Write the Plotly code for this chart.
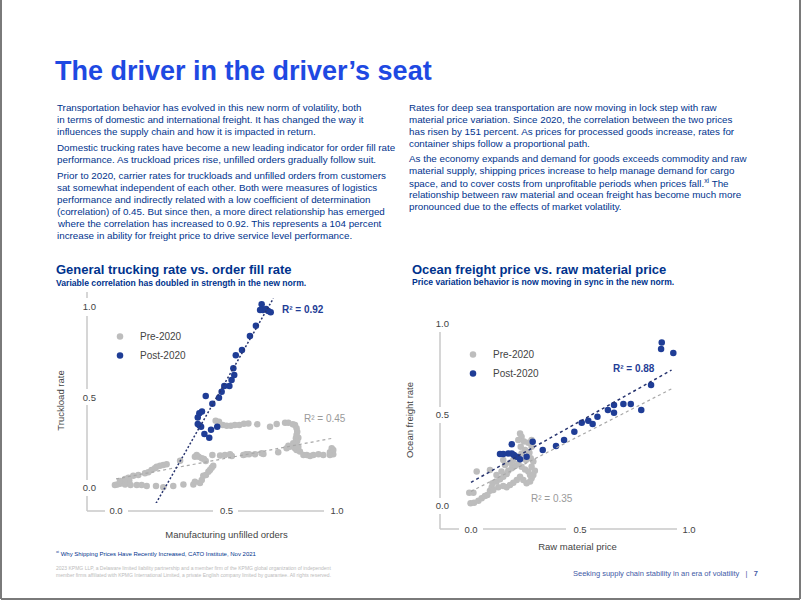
import plotly.graph_objects as go

W, H = 802, 601

def X(px):
    return px / W

def Y(py):
    return 1 - py / H

# ---------------- data: trucking rate vs. order fill rate ----------------
truck_pre_x = [-0.005, 0.006, 0.018, 0.029, 0.041, 0.051, 0.060, 0.066, 0.094, 0.116, 0.139, 0.181, 0.214,
               0.259, 0.305, 0.350, 0.357, 0.380, 0.388, 0.395, 0.407, 0.418, 0.425, 0.433, 0.440,
               0.018, 0.041, 0.056, 0.078, 0.101, 0.131, 0.146, 0.161, 0.176, 0.184, 0.199, 0.214, 0.229, 0.290,
               0.357, 0.365, 0.374, 0.388, 0.398, 0.406, 0.436, 0.471, 0.493, 0.516, 0.524, 0.576, 0.588, 0.602,
               0.629, 0.659, 0.667, 0.734, 0.772, 0.780, 0.787, 0.802, 0.810, 0.817, 0.825, 0.832, 0.848, 0.863,
               0.878, 0.893, 0.916, 0.938, 0.968, 0.976, 0.983, 0.983, 0.968,
               0.810, 0.817, 0.820, 0.817, 0.825, 0.814, 0.820, 0.802,
               0.451, 0.466, 0.483, 0.501, 0.520, 0.538, 0.558, 0.579, 0.599, 0.639, 0.697, 0.727, 0.765, 0.780, 0.800]
truck_pre_y = [0.017, 0.020, 0.024, 0.031, 0.020, 0.031, 0.042, 0.017, 0.017, 0.017, 0.011, 0.011, 0.004,
               0.011, 0.020, 0.020, 0.035, 0.028, 0.044, 0.068, 0.072, 0.090, 0.099, 0.112, 0.123,
               0.039, 0.050, 0.057, 0.068, 0.072, 0.081, 0.087, 0.099, 0.109, 0.118, 0.123, 0.127, 0.131, 0.151,
               0.173, 0.182, 0.173, 0.164, 0.160, 0.149, 0.182, 0.179, 0.182, 0.186, 0.177, 0.182, 0.186, 0.186,
               0.186, 0.192, 0.188, 0.197, 0.219, 0.234, 0.228, 0.238, 0.219, 0.210, 0.228, 0.201, 0.182, 0.182,
               0.177, 0.182, 0.186, 0.182, 0.197, 0.219, 0.210, 0.186, 0.182,
               0.348, 0.330, 0.311, 0.293, 0.278, 0.275, 0.260, 0.247,
               0.372, 0.366, 0.348, 0.344, 0.344, 0.348, 0.348, 0.355, 0.357, 0.352, 0.339, 0.354, 0.361, 0.361, 0.352]
truck_post_x = [0.659, 0.652, 0.664, 0.679, 0.689, 0.700, 0.633, 0.606, 0.570, 0.542, 0.531, 0.535, 0.523,
                0.490, 0.513, 0.478, 0.466, 0.406, 0.436, 0.389, 0.377, 0.370, 0.370, 0.378, 0.385, 0.430,
                0.400, 0.422, 0.458]
truck_post_y = [1.015, 0.983, 0.983, 0.989, 0.978, 0.971, 0.897, 0.840, 0.762, 0.733, 0.661, 0.624, 0.597,
                0.564, 0.564, 0.532, 0.499, 0.508, 0.466, 0.422, 0.413, 0.390, 0.354, 0.345, 0.339, 0.322,
                0.298, 0.278, 0.339]
truck_trend_pre_x = [0.0, 0.98]
truck_trend_pre_y = [0.05, 0.275]
truck_trend_post_x = [0.181, 0.712]
truck_trend_post_y = [-0.085, 1.048]

# ---------------- data: ocean freight vs. raw material ----------------
ocean_pre_x = [0.026, 0.087, -0.008, 0.011, -0.002, 0.014, 0.034, 0.049, 0.064,
               0.087, 0.095, 0.099, 0.117, 0.133, 0.148, 0.164, 0.171, 0.187, 0.202, 0.217, 0.232, 0.248,
               0.263, 0.271, 0.278, 0.271, 0.255, 0.240, 0.225, 0.210, 0.194, 0.179, 0.164, 0.148, 0.125,
               0.102, 0.075, 0.117, 0.140, 0.156, 0.179, 0.148, 0.194,
               0.225, 0.232, 0.217, 0.243, 0.263, 0.278, 0.228, 0.248, 0.268, 0.232, 0.274, 0.252, 0.286,
               0.278, 0.293, 0.286, 0.278]
ocean_pre_y = [0.189, 0.198, 0.073, 0.073, 0.015, 0.018, 0.029, 0.042, 0.055,
               0.084, 0.103, 0.125, 0.134, 0.147, 0.161, 0.176, 0.194, 0.207, 0.220, 0.231, 0.216, 0.201,
               0.189, 0.170, 0.152, 0.134, 0.125, 0.143, 0.161, 0.143, 0.128, 0.115, 0.103, 0.110, 0.103,
               0.088, 0.060, 0.170, 0.189, 0.225, 0.238, 0.253, 0.253,
               0.399, 0.381, 0.363, 0.354, 0.348, 0.363, 0.326, 0.308, 0.293, 0.289, 0.262, 0.253, 0.244,
               0.216, 0.194, 0.170, 0.326]
ocean_post_x = [0.875, 0.872, 0.928, 0.826, 0.781, 0.733, 0.699, 0.656, 0.656, 0.628, 0.580, 0.558, 0.538,
                0.508, 0.474, 0.427, 0.390, 0.329, 0.283, 0.255, 0.225, 0.210, 0.197, 0.187, 0.171, 0.148,
                0.133, 0.187]
ocean_post_y = [0.899, 0.863, 0.841, 0.665, 0.527, 0.560, 0.560, 0.555, 0.513, 0.527, 0.491, 0.451, 0.469,
                0.458, 0.408, 0.363, 0.330, 0.308, 0.353, 0.271, 0.257, 0.271, 0.280, 0.289, 0.289, 0.286,
                0.286, 0.339]
ocean_trend_pre_x = [0.0, 0.93]
ocean_trend_pre_y = [0.08, 0.65]
ocean_trend_post_x = [0.0, 0.92]
ocean_trend_post_y = [0.13, 0.747]

tick_vals = [0.0, 0.5, 1.0]
tick_text = ["0.0", "0.5", "1.0"]

# ---------------- text ----------------
left_paragraphs = [
    ["Transportation behavior has evolved in this new norm of volatility, both",
     "in terms of domestic and international freight. It has changed the way it",
     "influences the supply chain and how it is impacted in return."],
    ["Domestic trucking rates have become a new leading indicator for order fill rate",
     "performance. As truckload prices rise, unfilled orders gradually follow suit."],
    ["Prior to 2020, carrier rates for truckloads and unfilled orders from customers",
     "sat somewhat independent of each other. Both were measures of logistics",
     "performance and indirectly related with a low coefficient of determination",
     "(correlation) of 0.45. But since then, a more direct relationship has emerged",
     "where the correlation has increased to 0.92. This represents a 104 percent",
     "increase in ability for freight price to drive service level performance."],
]
right_paragraphs = [
    ["Rates for deep sea transportation are now moving in lock step with raw",
     "material price variation. Since 2020, the correlation between the two prices",
     "has risen by 151 percent. As prices for processed goods increase, rates for",
     "container ships follow a proportional path."],
    ["As the economy expands and demand for goods exceeds commodity and raw",
     "material supply, shipping prices increase to help manage demand for cargo",
     "space, and to cover costs from unprofitable periods when prices fall.<sup>xi</sup> The",
     "relationship between raw material and ocean freight has become much more",
     "pronounced due to the effects of market volatility."],
]

# ---------------- styles ----------------
BLUE = "#1f3d96"
GREY = "#bdbdbd"
NAVY_TEXT = "#00338D"
COBALT = "#1E49E2"
AXIS_GREY = "#c9c9c9"
FONT = "Liberation Sans, Arial, sans-serif"
LABEL = "#444444"

fig = go.Figure()

# left chart
fig.add_trace(go.Scatter(x=truck_pre_x, y=truck_pre_y, mode="markers", name="Pre-2020",
                         marker=dict(color=GREY, size=6.5), xaxis="x", yaxis="y", legend="legend"))
fig.add_trace(go.Scatter(x=truck_post_x, y=truck_post_y, mode="markers", name="Post-2020",
                         marker=dict(color=BLUE, size=6.5), xaxis="x", yaxis="y", legend="legend"))
fig.add_trace(go.Scatter(x=truck_trend_pre_x, y=truck_trend_pre_y, mode="lines", showlegend=False,
                         line=dict(color="#a8a8a8", width=1.2, dash="3px,3px"), xaxis="x", yaxis="y"))
fig.add_trace(go.Scatter(x=truck_trend_post_x, y=truck_trend_post_y, mode="lines", showlegend=False,
                         line=dict(color="#27346f", width=1.5, dash="2px,2px"), xaxis="x", yaxis="y"))

# right chart
fig.add_trace(go.Scatter(x=ocean_pre_x, y=ocean_pre_y, mode="markers", name="Pre-2020",
                         marker=dict(color=GREY, size=6.5), xaxis="x2", yaxis="y2", legend="legend2"))
fig.add_trace(go.Scatter(x=ocean_post_x, y=ocean_post_y, mode="markers", name="Post-2020",
                         marker=dict(color=BLUE, size=6.5), xaxis="x2", yaxis="y2", legend="legend2"))
fig.add_trace(go.Scatter(x=ocean_trend_pre_x, y=ocean_trend_pre_y, mode="lines", showlegend=False,
                         line=dict(color="#a8a8a8", width=1.2, dash="3px,3px"), xaxis="x2", yaxis="y2"))
fig.add_trace(go.Scatter(x=ocean_trend_post_x, y=ocean_trend_post_y, mode="lines", showlegend=False,
                         line=dict(color="#27346f", width=1.5, dash="3px,3px"), xaxis="x2", yaxis="y2"))

axis_common = dict(showgrid=False, zeroline=False, showline=False, ticks="",
                   tickvals=tick_vals, ticktext=tick_text,
                   tickfont=dict(family=FONT, size=9.5, color=LABEL))
title_font = dict(family=FONT, size=9.5, color=LABEL)

fig.update_layout(
    width=W, height=H,
    margin=dict(l=0, r=0, t=0, b=0),
    paper_bgcolor="white", plot_bgcolor="white",
    font=dict(family=FONT, color=NAVY_TEXT),
    xaxis=dict(domain=[X(108), X(345)], range=[-0.0362, 1.0362], anchor="y",
               title=dict(text="Manufacturing unfilled orders", font=title_font, standoff=16), **axis_common),
    yaxis=dict(domain=[Y(503), Y(298)], range=[-0.0829, 1.0497], anchor="x", ticklabelstandoff=11,
               title=dict(text="Truckload rate", font=title_font, standoff=16), **axis_common),
    xaxis2=dict(domain=[X(455), X(700)], range=[-0.0734, 1.0505], anchor="y2",
                title=dict(text="Raw material price", font=title_font, standoff=9), **axis_common),
    yaxis2=dict(domain=[Y(522), Y(318)], range=[-0.0879, 1.033], anchor="x2", ticklabelstandoff=5,
                title=dict(text="Ocean freight rate", font=title_font, standoff=20), **axis_common),
    legend=dict(x=X(100), y=Y(322), xanchor="left", yanchor="top", bgcolor="rgba(0,0,0,0)",
                font=dict(family=FONT, size=10, color=LABEL), tracegroupgap=0),
    legend2=dict(x=X(453), y=Y(340), xanchor="left", yanchor="top", bgcolor="rgba(0,0,0,0)",
                 font=dict(family=FONT, size=10, color=LABEL), tracegroupgap=0),
)

# axis lines with gaps behind the tick labels (paper coordinates)
shapes = []
def seg(x0, y0, x1, y1, color=AXIS_GREY, width=1.5):
    shapes.append(dict(type="line", xref="paper", yref="paper", x0=X(x0), y0=Y(y0), x1=X(x1), y1=Y(y1),
                       line=dict(color=color, width=width)))

for a, b in [(292, 298), (316, 389), (405, 480), (496, 511)]:
    seg(87, a, 87, b)
for a, b in [(87, 105), (128, 213), (238, 324)]:
    seg(a, 511, b, 511)
for a, b in [(332, 407), (423, 498), (514, 529)]:
    seg(440, a, 440, b)
for a, b in [(440, 459), (483, 566), (590, 677)]:
    seg(a, 529, b, 529)
# page border
seg(1, 0, 1, 599, "#7a7a7a", 2)
seg(1, 599, 800, 599, "#7a7a7a", 2)
seg(800, 0, 800, 599, "#7a7a7a", 2)
fig.update_layout(shapes=shapes)

ann = []
def text(px, py, s, size, color=NAVY_TEXT, family=FONT, xanchor="left", yanchor="middle", angle=0):
    ann.append(dict(x=X(px), y=Y(py), xref="paper", yref="paper", text=s, showarrow=False,
                    xanchor=xanchor, yanchor=yanchor, align="left", textangle=angle,
                    font=dict(family=family, size=size, color=color)))

text(53, 71, "<b>The driver in the driver’s seat</b>", 27, COBALT)

BODY = 9.8
LINE = 12
def paragraphs(px, py0, paras, gap=4.3):
    py = py0
    for para in paras:
        for line in para:
            text(px, py, line, BODY)
            py += LINE
        py += gap

paragraphs(55, 107.3, left_paragraphs)
paragraphs(406.5, 107.3, right_paragraphs, gap=3.5)

# chart titles
text(54, 269, "<b>General trucking rate vs. order fill rate</b>", 13)
text(54, 283, "<b>Variable correlation has doubled in strength in the new norm.</b>", 8.6)
text(410, 269, "<b>Ocean freight price vs. raw material price</b>", 13)
text(410, 282, "<b>Price variation behavior is now moving in sync in the new norm.</b>", 8.6)

# R² labels
text(303, 309, "<b>R² = 0.92</b>", 10, BLUE, xanchor="center")
text(325, 418, "R² = 0.45", 10, "#9a9a9a", xanchor="center")
text(634, 368, "<b>R² = 0.88</b>", 10, BLUE, xanchor="center")
text(552, 498, "R² = 0.35", 10, "#9a9a9a", xanchor="center")

# footnotes and footer
text(54, 553, "<sup>xi</sup> Why Shipping Prices Have Recently Increased, CATO Institute, Nov 2021", 6)
text(54, 571, "2023 KPMG LLP, a Delaware limited liability partnership and a member firm of the KPMG global organization of independent<br>"
              "member firms affiliated with KPMG International Limited, a private English company limited by guarantee. All rights reserved.",
     5, "#bbbbbb")
text(760, 573, "Seeking supply chain stability in an era of volatility   |   <b>7</b>", 7.5, "#3f5aa6", xanchor="right")

fig.update_layout(annotations=ann)

fig.write_html("out.html", config={"displayModeBar": False},
               post_script="document.body.style.margin='0';")
